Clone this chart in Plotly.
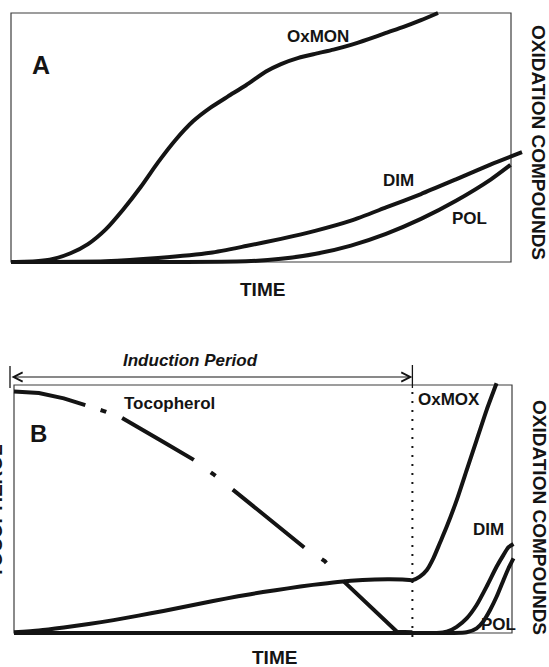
import plotly.graph_objects as go

# ---------------- DATA (arbitrary 0-100 units) ----------------
# Panel A
a_oxmon_t = [0, 5, 8.4, 11.9, 15.4, 18.9, 22.4, 25.9, 29.4, 32.9, 36.4, 39.9, 43.4, 47, 51, 54,
             57.5, 61, 64.5, 68, 71.5, 75, 78.5, 82, 85.4]
a_oxmon = [0, 0.3, 1.2, 3.5, 7.2, 13, 21, 30, 40, 49, 56.5, 62, 66.5, 71, 76.5, 79.5,
           82, 83.7, 85.3, 87.2, 89.5, 92, 94.4, 97.1, 100]
a_dim_t = [0, 18.9, 29.4, 39.9, 47.0, 54.0, 61.0, 68.0, 75.0, 82.0, 89.0, 96.0, 102.2]
a_dim = [0, 0.3, 1.6, 3.7, 6.4, 9.3, 12.6, 16.6, 21.9, 27.3, 33.2, 39.2, 44.1]
a_pol_t = [0, 30, 47.0, 54.0, 61.0, 68.0, 75.0, 82.0, 89.0, 96.0, 99.9]
a_pol = [0, 0, 0.3, 1.3, 3.3, 6.6, 11.3, 17.3, 24.6, 33.2, 39.0]

# Panel B
b_ox_t = [0, 5, 10, 15, 20, 25, 30, 35, 40, 45, 50, 55, 60, 65, 70, 75, 78, 80,
          81.5, 82.9, 84.2, 85.5, 86.9, 88.9, 90.9, 92.9, 94.9, 96.9]
b_ox = [0.3, 1.0, 2.2, 3.6, 5.2, 7.0, 8.9, 10.9, 12.9, 14.8, 16.5, 18.0, 19.4, 20.6, 21.4, 21.7, 21.6, 21.3,
        22.7, 25.4, 30.1, 36.2, 42.9, 53.6, 65.7, 77.8, 89.9, 100.7]
b_dim_t = [0, 20, 40, 60, 80, 84.9, 86.9, 88.9, 90.9, 92.9, 94.9, 96.9, 98.3, 99.3, 100.3]
b_dim = [0, 0, 0, 0, 0, 0, 0.5, 2.5, 5.9, 11.3, 18.7, 26.7, 31.5, 34.6, 35.9]
b_pol_t = [0, 20, 40, 60, 80, 88.0, 90.9, 92.9, 94.2, 95.6, 96.9, 98.3, 99.3, 100.3]
b_pol = [0, 0, 0, 0, 0, 0, 0.3, 1.9, 4.6, 9.3, 14.6, 21.4, 26.1, 30.1]
toco_t = [0, 5, 10, 14.3, 17.9, 21.7, 25, 30, 36.1, 40, 44, 50, 55, 58.4, 62.4, 66.1, 71.5, 76.9, 80]
toco = [97.4, 96.8, 94.6, 91.9, 89.6, 86.7, 83.0, 77.0, 69.8, 64.1, 57.7, 47.9, 39.8, 34.3, 29.0, 21.0, 10.7, 0.5, 0.3]
toco_split = 15          # index where the drawn tocopherol line becomes solid
induction_end = 80.0     # end of the induction period (time units)

# ---------------- LAYOUT HELPERS ----------------
W, H = 549, 667
FONT = "Liberation Sans, Arial, sans-serif"
INK = "#141414"
FRAME = "#3c3c3c"
TOCO_DASH = "73px,16px,6px,17px,83px,21px,6px,22px,92px,21px,6px,80px"


def xdom(p0, p100, lo, hi):
    s = (p100 - p0) / 100.0
    return [(p0 + lo * s) / W, (p0 + hi * s) / W]


def ydom(p0, p100, lo, hi):
    s = (p100 - p0) / 100.0
    a = p0 + lo * s
    b = p0 + hi * s
    return [1 - a / H, 1 - b / H]


XR = [-2, 104]
YRA = [-3, 103]
YRB = [-3, 104]
AX0, AX100, AY0, AY100 = 11, 511, 262, 13
BX0, BX100, BY0, BY100 = 14, 512, 633, 385

fig = go.Figure()


def curve(x, y, xa, ya, dash="solid", shape="spline"):
    fig.add_trace(go.Scatter(
        x=x, y=y, xaxis=xa, yaxis=ya, mode="lines",
        line=dict(color=INK, width=4, dash=dash, shape=shape, smoothing=0.6),
        hoverinfo="skip", showlegend=False))


# panel A
curve(a_pol_t, a_pol, "x", "y")
curve(a_dim_t, a_dim, "x", "y")
curve(a_oxmon_t, a_oxmon, "x", "y")
# panel B
curve(b_pol_t, b_pol, "x2", "y2")
curve(b_dim_t, b_dim, "x2", "y2")
curve(b_ox_t, b_ox, "x2", "y2")
curve(toco_t[:toco_split + 1], toco[:toco_split + 1], "x2", "y2",
      dash=TOCO_DASH, shape="linear")
curve(toco_t[toco_split:], toco[toco_split:], "x2", "y2", shape="linear")

ax_common = dict(visible=False, fixedrange=True)
fig.update_layout(
    width=W, height=H,
    margin=dict(l=0, r=0, t=0, b=0),
    paper_bgcolor="white", plot_bgcolor="white",
    xaxis=dict(domain=xdom(AX0, AX100, *XR), range=XR, anchor="y", **ax_common),
    yaxis=dict(domain=ydom(AY0, AY100, *YRA), range=YRA, anchor="x", **ax_common),
    xaxis2=dict(domain=xdom(BX0, BX100, *XR), range=XR, anchor="y2", **ax_common),
    yaxis2=dict(domain=ydom(BY0, BY100, *YRB), range=YRB, anchor="x2", **ax_common),
)

shapes = [
    dict(type="rect", xref="x", yref="y", x0=0, x1=100, y0=0, y1=100,
         line=dict(color=FRAME, width=1.2), layer="below"),
    dict(type="rect", xref="x2", yref="y2", x0=0, x1=100, y0=0, y1=100,
         line=dict(color=FRAME, width=1.2), layer="below"),
    dict(type="line", xref="x2", yref="paper", x0=induction_end, x1=induction_end,
         y0=1 - 637 / H, y1=1 - 387 / H, line=dict(color=INK, width=2, dash="2px,7px")),
]

# induction period arrow (paper coordinates derived from the B axis mapping)
x_end_px = BX0 + induction_end * (BX100 - BX0) / 100.0
x_start_px = 10
arrow_y = 1 - 377 / H
shapes += [
    dict(type="line", xref="paper", yref="paper", x0=x_start_px / W, x1=x_start_px / W,
         y0=1 - 366 / H, y1=1 - 388 / H, line=dict(color=INK, width=1.3)),
    dict(type="line", xref="paper", yref="paper", x0=x_end_px / W, x1=x_end_px / W,
         y0=1 - 365 / H, y1=1 - 388 / H, line=dict(color=INK, width=1.3)),
]
fig.update_layout(shapes=shapes)


def lbl(text, x, y, xref, yref, size=17, angle=0, style="normal"):
    return dict(text=text, x=x, y=y, xref=xref, yref=yref, showarrow=False,
                xanchor="center", yanchor="middle", textangle=angle,
                font=dict(family=FONT, size=size, color=INK, weight="bold", style=style))


ann = [
    lbl("OxMON", 61.3, 90.6, "x", "y"),
    lbl("DIM", 77.4, 32.6, "x", "y"),
    lbl("POL", 91.7, 17.3, "x", "y"),
    lbl("A", 6, 79, "x", "y", size=25),
    lbl("B", 5, 80.5, "x2", "y2", size=24),
    lbl("Tocopherol", 31.2, 92.5, "x2", "y2"),
    lbl("OxMOX", 87.4, 94.0, "x2", "y2"),
    lbl("DIM", 95.3, 41.6, "x2", "y2"),
    lbl("POL", 97.2, 3.4, "x2", "y2"),
    lbl("TIME", 262 / W, 1 - 290 / H, "paper", "paper", size=19),
    lbl("TIME", 274 / W, 1 - 657 / H, "paper", "paper", size=19),
    lbl("OXIDATION COMPOUNDS", 539 / W, 1 - 142 / H, "paper", "paper", size=19, angle=90),
    lbl("OXIDATION COMPOUNDS", 540 / W, 1 - 517 / H, "paper", "paper", size=19, angle=90),
    lbl("TOCOPHEROL", -5 / W, 1 - 511 / H, "paper", "paper", size=19, angle=-90),
    lbl("Induction Period", 190 / W, 1 - 360 / H, "paper", "paper", size=17, style="italic"),
    dict(text="", x=x_end_px / W, y=arrow_y, xref="paper", yref="paper",
         showarrow=True, ax=-(x_end_px - x_start_px), ay=0, axref="pixel", ayref="pixel",
         arrowhead=5, startarrowhead=5, arrowside="end+start", arrowsize=1.5,
         startarrowsize=1.5, arrowwidth=1.2, arrowcolor=INK, standoff=0, startstandoff=0),
]
fig.update_layout(annotations=ann)

fig.write_html("out.html", config={"displayModeBar": False},
               post_script="document.body.style.margin='0';")
